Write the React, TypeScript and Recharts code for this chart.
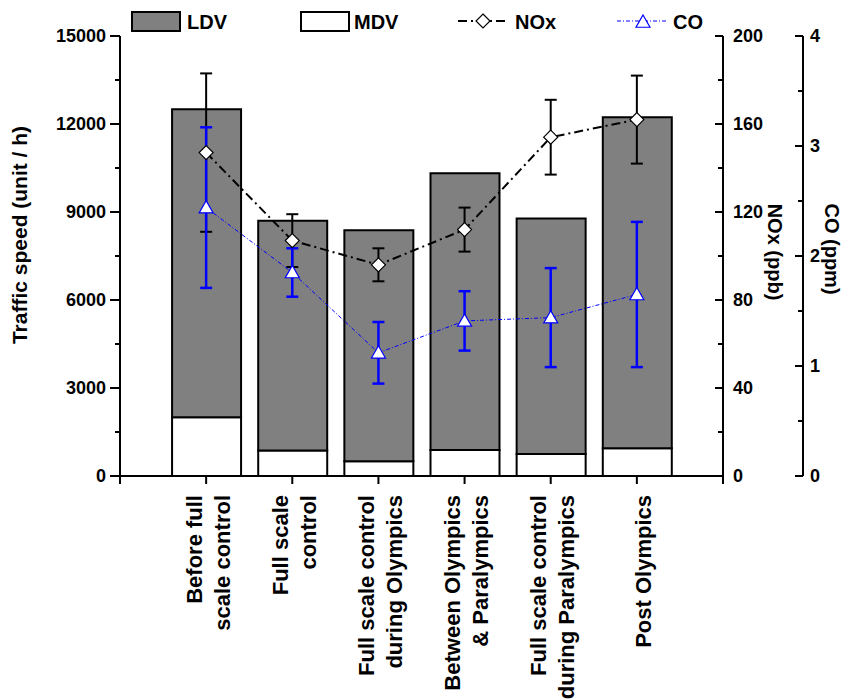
import React from 'react';
import { ComposedChart, Bar, Line, XAxis, YAxis, ErrorBar } from 'recharts';

// ---------- data ----------
const categoryLines: string[][] = [
  ['Before full', 'scale control'],
  ['Full scale', 'control'],
  ['Full scale control', 'during Olympics'],
  ['Between Olympics', '& Paralympics'],
  ['Full scale control', 'during Paralympics'],
  ['Post Olympics'],
];
const positions = [1, 2, 3, 4, 5, 6];
const ldv = [10500, 7830, 7880, 9430, 8030, 11280];
const mdv = [2000, 870, 500, 890, 750, 950];
const nox = [147, 107, 96, 112, 154, 162];
const noxErr = [36, 12, 7.5, 10, 17, 20];
const co = [2.44, 1.85, 1.12, 1.41, 1.44, 1.65];
const coErr = [0.73, 0.22, 0.28, 0.27, 0.45, 0.66];

const xTicks = [0, 1, 2, 3, 4, 5, 6, 7];
const leftTicks = [0, 1500, 3000, 4500, 6000, 7500, 9000, 10500, 12000, 13500, 15000];
const noxTicks = [0, 20, 40, 60, 80, 100, 120, 140, 160, 180, 200];
const coTicks = [0, 0.5, 1, 1.5, 2, 2.5, 3, 3.5, 4];

const data = positions.map((p, i) => ({
  pos: p,
  ldv: ldv[i],
  mdv: mdv[i],
  nox: nox[i],
  noxErr: noxErr[i],
  co: co[i],
  coErr: coErr[i],
}));

const FONT = "'Liberation Sans', Arial, Helvetica, sans-serif";
const BLUE = '#0000ff';
const NOX_AXIS = 1;
const CO_AXIS = 2;

// ---------- ticks ----------
const XTick = (props: any) => {
  const { x, y, payload } = props;
  const idx = positions.indexOf(payload.value);
  const lines = idx >= 0 ? categoryLines[idx] : [];
  const top = y + 19;
  const offsets = lines.length === 2 ? [-12, 16] : [6];
  return (
    <g>
      <line x1={x} x2={x} y1={y} y2={y + 8} stroke="#000" strokeWidth={2} />
      {lines.map((t, i) => (
        <text
          key={i}
          x={x + offsets[i]}
          y={top}
          transform={`rotate(-90, ${x + offsets[i]}, ${top})`}
          textAnchor="end"
          dy="0.35em"
          fontSize={22}
          fontWeight="bold"
          fontFamily={FONT}
          fill="#000"
        >
          {t}
        </text>
      ))}
    </g>
  );
};

const LeftTick = (props: any) => {
  const { x, y, payload } = props;
  const major = payload.value % 3000 === 0;
  return (
    <g>
      <line x1={x} x2={x - (major ? 10 : 5)} y1={y} y2={y} stroke="#000" strokeWidth={2} />
      {major && (
        <text x={x - 14} y={y} dy="0.35em" textAnchor="end" fontSize={18} fontWeight="bold" fontFamily={FONT} fill="#000">
          {payload.value}
        </text>
      )}
    </g>
  );
};

const NoxTick = (props: any) => {
  const { x, y, payload } = props;
  const major = payload.value % 40 === 0;
  return (
    <g>
      <line x1={x} x2={x - (major ? 8 : 5)} y1={y} y2={y} stroke="#000" strokeWidth={2} />
      {major && (
        <text x={x + 10} y={y} dy="0.35em" textAnchor="start" fontSize={18} fontWeight="bold" fontFamily={FONT} fill="#000">
          {payload.value}
        </text>
      )}
    </g>
  );
};

const CoTick = (props: any) => {
  const { x, y, payload } = props;
  const major = Number.isInteger(payload.value);
  return (
    <g>
      <line x1={x} x2={x - (major ? 8 : 5)} y1={y} y2={y} stroke="#000" strokeWidth={2} />
      {major && (
        <text x={x + 7} y={y} dy="0.35em" textAnchor="start" fontSize={18} fontWeight="bold" fontFamily={FONT} fill="#000">
          {payload.value}
        </text>
      )}
    </g>
  );
};

const axisTitle = (text: string, dx: number, dyc: number, angle: number, size: number) => (p: any) => {
  const vb = p.viewBox || {};
  const cx = vb.x + dx;
  const cy = vb.y + vb.height / 2 + dyc;
  return (
    <text
      x={cx}
      y={cy}
      transform={`rotate(${angle}, ${cx}, ${cy})`}
      textAnchor="middle"
      dy="0.35em"
      fontSize={size}
      fontWeight="bold"
      fontFamily={FONT}
      fill="#000"
    >
      {text}
    </text>
  );
};

// ---------- markers ----------
const diamondPath = (cx: number, cy: number, r: number) =>
  `M${cx},${cy - r}L${cx + r},${cy}L${cx},${cy + r}L${cx - r},${cy}Z`;
const trianglePath = (cx: number, cy: number, r: number) =>
  `M${cx},${cy - r}L${cx + r},${cy + r * 0.75}L${cx - r},${cy + r * 0.75}Z`;

const renderDiamond = (p: any) => {
  if (p.cx == null || p.cy == null) return <g key={p.key} />;
  return <path key={p.key ?? p.index} d={diamondPath(p.cx, p.cy, 7)} fill="#fff" stroke="#000" strokeWidth={1.2} />;
};
const renderTriangle = (p: any) => {
  if (p.cx == null || p.cy == null) return <g key={p.key} />;
  return <path key={p.key ?? p.index} d={trianglePath(p.cx, p.cy, 7)} fill="#fff" stroke={BLUE} strokeWidth={1.2} />;
};

// ---------- legend ----------
const LegendOverlay = () => (
  <svg width={843} height={45} style={{ position: 'absolute', left: 0, top: 0, pointerEvents: 'none' }}>
    <rect x={132} y={12} width={48} height={19} fill="#808080" stroke="#000" strokeWidth={2} />
    <text x={187} y={29} fontSize={20} fontWeight="bold" fontFamily={FONT} fill="#000">LDV</text>
    <rect x={301} y={12} width={48} height={19} fill="#fff" stroke="#000" strokeWidth={2} />
    <text x={354} y={29} fontSize={20} fontWeight="bold" fontFamily={FONT} fill="#000">MDV</text>
    <line x1={458} x2={507} y1={21} y2={21} stroke="#000" strokeWidth={2} strokeDasharray="9 4 2 4" />
    <path d={diamondPath(483, 21, 7)} fill="#fff" stroke="#000" strokeWidth={1.2} />
    <text x={515} y={29} fontSize={20} fontWeight="bold" fontFamily={FONT} fill="#000">NOx</text>
    <line x1={617} x2={667} y1={21} y2={21} stroke={BLUE} strokeWidth={1} strokeDasharray="4 2 1 2" />
    <path d={trianglePath(643, 22, 7)} fill="#fff" stroke={BLUE} strokeWidth={1.2} />
    <text x={673} y={29} fontSize={20} fontWeight="bold" fontFamily={FONT} fill="#000">CO</text>
  </svg>
);

export default function App() {
  return (
    <div style={{ position: 'absolute', left: 0, top: 0, width: 843, height: 700, background: '#fff' }}>
      <ComposedChart width={843} height={700} data={data} margin={{ top: 36, right: 0, bottom: 0, left: 0 }}>
        <XAxis
          dataKey="pos"
          type="number"
          domain={[0, 7]}
          ticks={xTicks}
          interval={0}
          allowDataOverflow
          height={224}
          tickSize={0}
          tickMargin={0}
          tickLine={false}
          axisLine={{ stroke: '#000', strokeWidth: 2 }}
          tick={(p: any) => <XTick {...p} />}
        />
        <YAxis
          yAxisId="left"
          orientation="left"
          width={120}
          domain={[0, 15000]}
          ticks={leftTicks}
          interval={0}
          allowDataOverflow
          tickSize={0}
          tickMargin={0}
          tickLine={false}
          axisLine={{ stroke: '#000', strokeWidth: 2 }}
          tick={(p: any) => <LeftTick {...p} />}
          label={{ content: axisTitle('Traffic speed (unit / h)', 20, -21, -90, 21) }}
        />
        <YAxis
          yAxisId={NOX_AXIS}
          orientation="right"
          width={80}
          domain={[0, 200]}
          ticks={noxTicks}
          interval={0}
          allowDataOverflow
          tickSize={0}
          tickMargin={0}
          tickLine={false}
          axisLine={{ stroke: '#000', strokeWidth: 2 }}
          tick={(p: any) => <NoxTick {...p} />}
          label={{ content: axisTitle('NOx (ppb)', 52, -4, 90, 20) }}
        />
        <YAxis
          yAxisId={CO_AXIS}
          orientation="right"
          width={40}
          domain={[0, 4]}
          ticks={coTicks}
          interval={0}
          allowDataOverflow
          tickSize={0}
          tickMargin={0}
          tickLine={false}
          axisLine={{ stroke: '#000', strokeWidth: 2 }}
          tick={(p: any) => <CoTick {...p} />}
          label={{ content: axisTitle('CO (ppm)', 29, -7, 90, 20) }}
        />
        <Bar yAxisId="left" dataKey="mdv" stackId="a" fill="#ffffff" stroke="#000" strokeWidth={2} barSize={69} isAnimationActive={false} />
        <Bar yAxisId="left" dataKey="ldv" stackId="a" fill="#808080" stroke="#000" strokeWidth={2} barSize={69} isAnimationActive={false} />
        <Line yAxisId={NOX_AXIS} dataKey="nox" stroke="#000" strokeWidth={2} strokeDasharray="9 4 2 4" dot={false} activeDot={false} isAnimationActive={false}>
          <ErrorBar dataKey="noxErr" direction="y" width={6} stroke="#000" strokeWidth={2} />
        </Line>
        <Line yAxisId={CO_AXIS} dataKey="co" stroke={BLUE} strokeWidth={1} strokeDasharray="4 2 1 2" dot={false} activeDot={false} isAnimationActive={false}>
          <ErrorBar dataKey="coErr" direction="y" width={6} stroke={BLUE} strokeWidth={2.5} />
        </Line>
        <Line yAxisId={NOX_AXIS} dataKey="nox" stroke="none" dot={renderDiamond} activeDot={false} isAnimationActive={false} />
        <Line yAxisId={CO_AXIS} dataKey="co" stroke="none" dot={renderTriangle} activeDot={false} isAnimationActive={false} />
      </ComposedChart>
      <LegendOverlay />
    </div>
  );
}
